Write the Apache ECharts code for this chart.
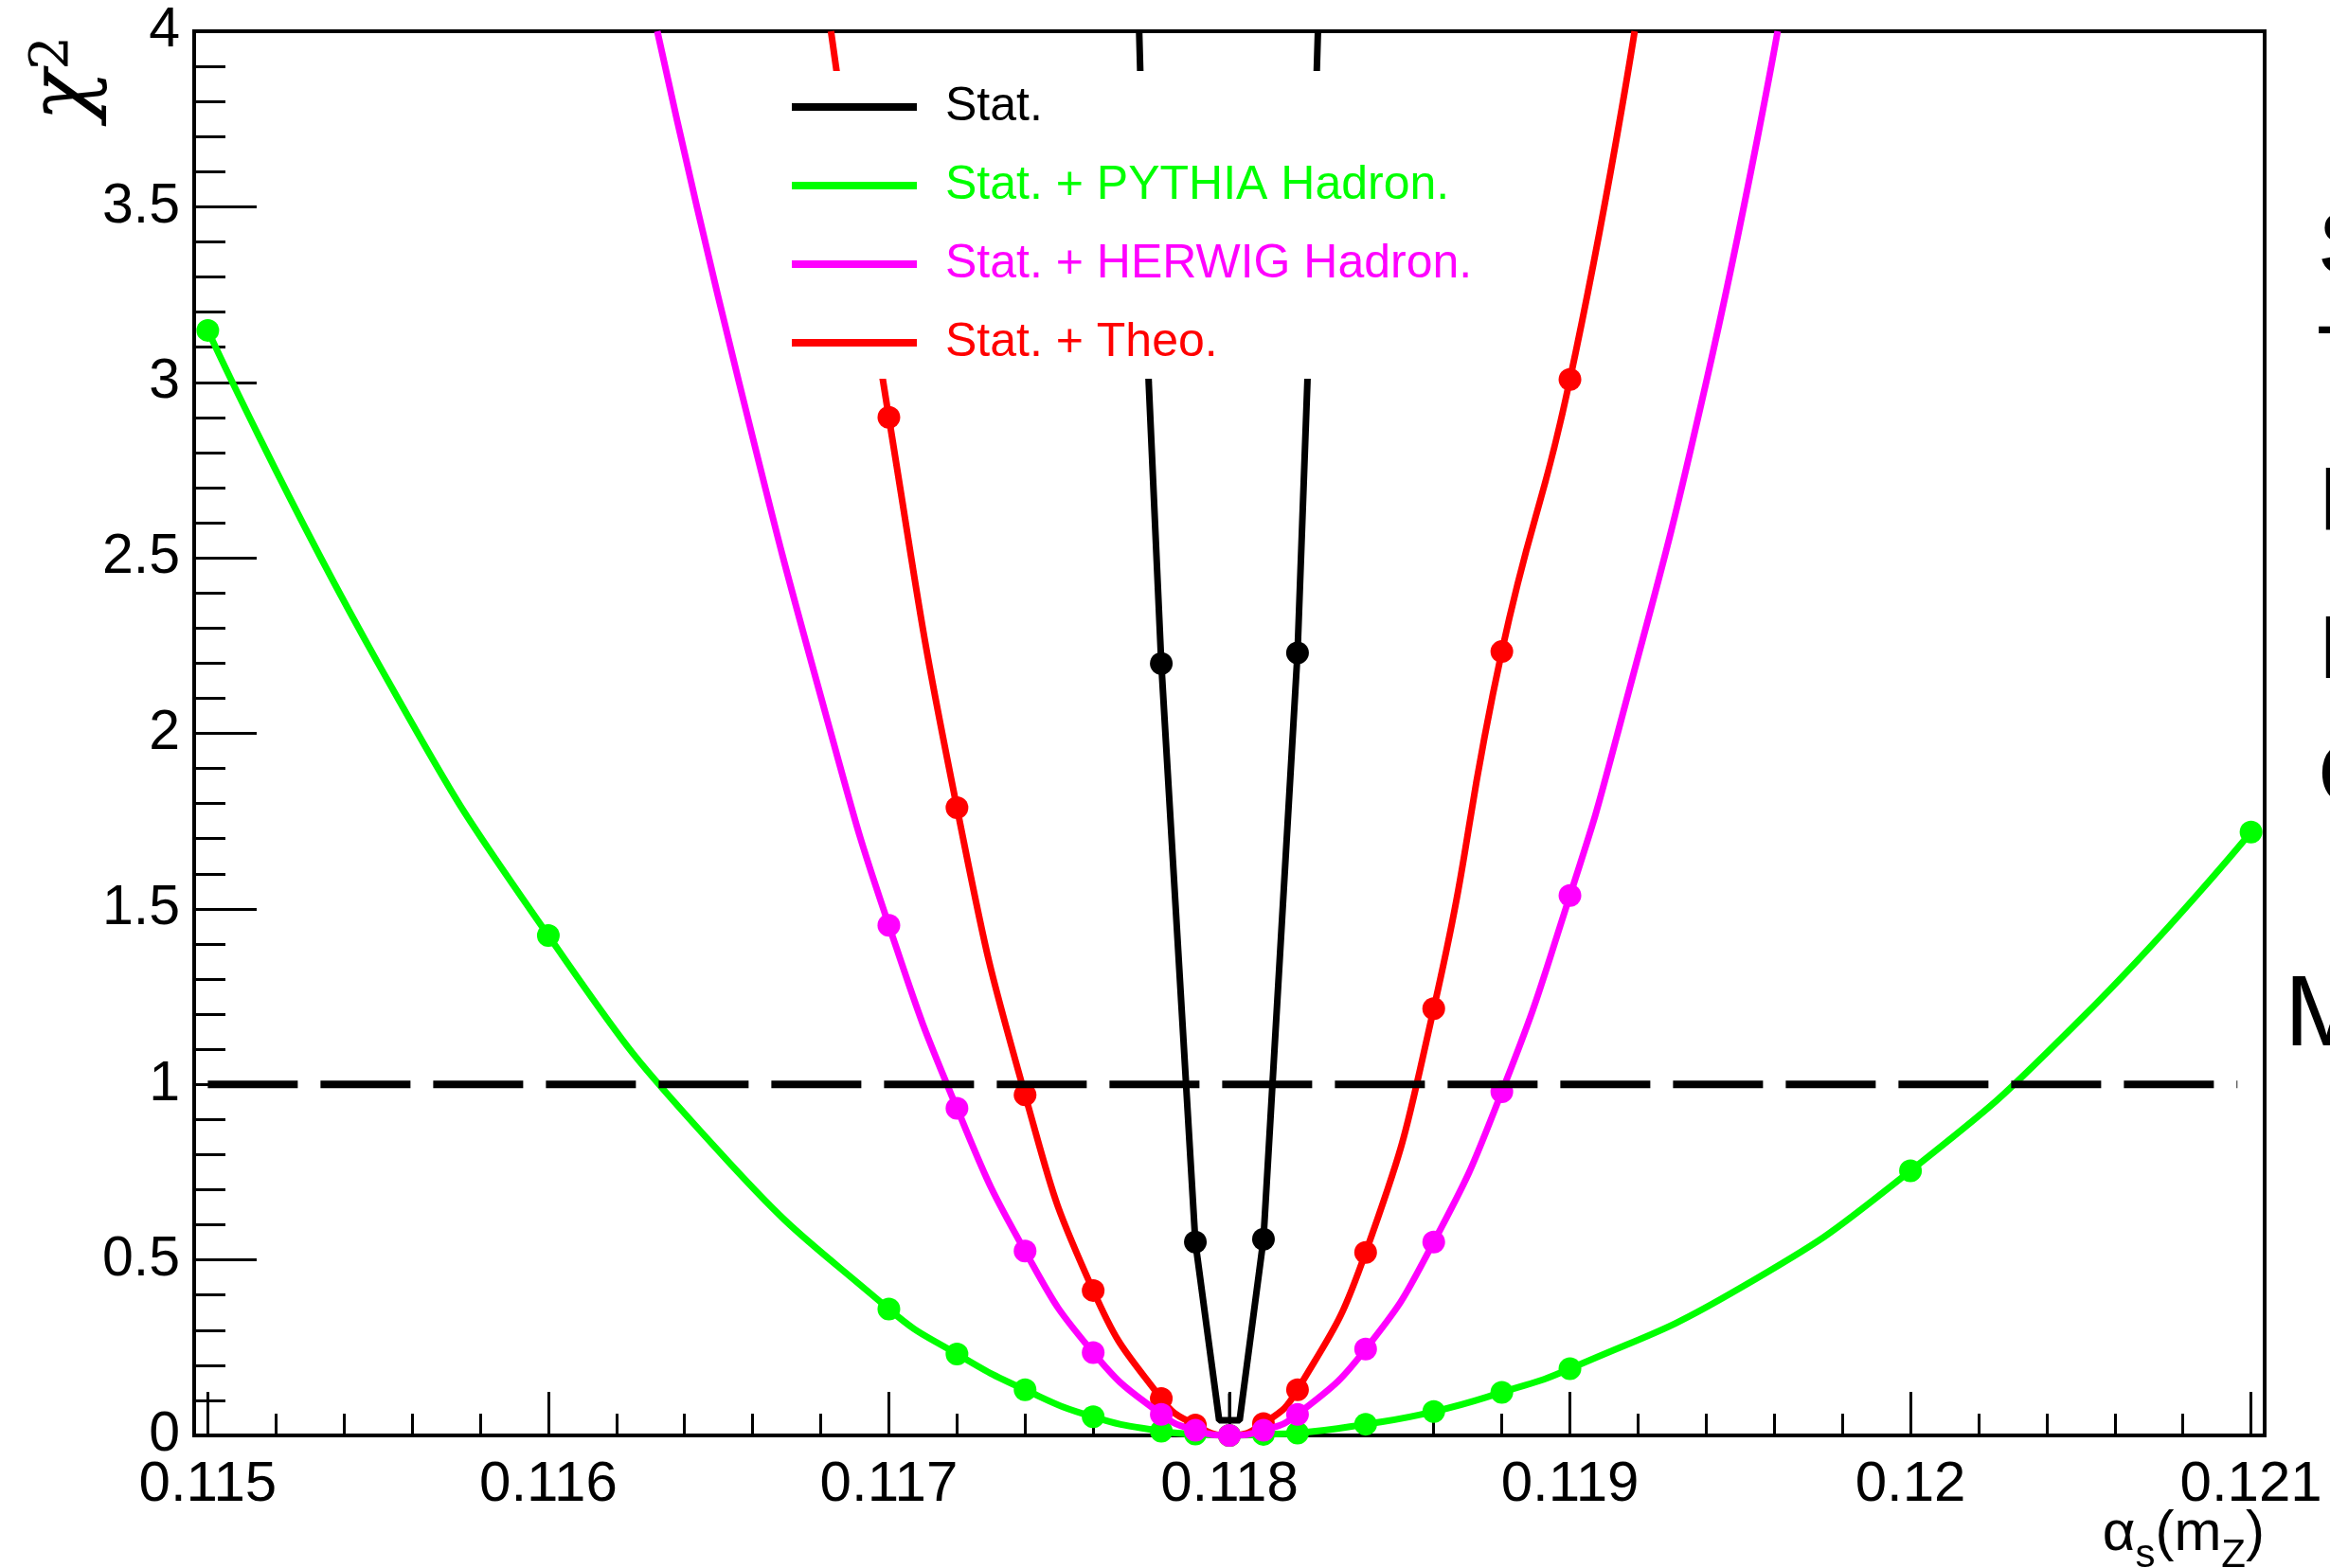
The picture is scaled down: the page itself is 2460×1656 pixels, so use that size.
<!DOCTYPE html>
<html>
<head>
<meta charset="utf-8">
<script src="https://cdn.jsdelivr.net/npm/echarts@6/dist/echarts.min.js"></script>
<style>
html,body{margin:0;padding:0;background:#fff;}
#chart{width:2460px;height:1656px;}
</style>
</head>
<body>
<div id="chart"></div>
<script>
// ---------- data ----------
const xTickVals   = [0.115, 0.116, 0.117, 0.118, 0.119, 0.120, 0.121];
const xTickLabels = ['0.115', '0.116', '0.117', '0.118', '0.119', '0.12', '0.121'];

// Stat. + PYTHIA Hadron. (green) markers
const pythiaX = [0.115, 0.116, 0.117, 0.1172, 0.1174, 0.1176, 0.1178, 0.1179, 0.118, 0.1181, 0.1182, 0.1184, 0.1186, 0.1188, 0.119, 0.120, 0.121];
const pythiaY = [3.148, 1.424, 0.360, 0.232, 0.130, 0.053, 0.012, 0.004, 0.0, 0.003, 0.007, 0.032, 0.068, 0.123, 0.190, 0.754, 1.719];
// PYTHIA drawn curve (markers plus curve positions read between the wide-spaced markers)
const pythiaCurveX = [0.115, 0.1155, 0.116, 0.1165, 0.117, 0.1172, 0.1174, 0.1176, 0.1178, 0.1179, 0.118, 0.1181, 0.1182, 0.1184, 0.1186, 0.1188, 0.119, 0.1195, 0.120, 0.1205, 0.121];
const pythiaCurveY = [3.148, 2.20, 1.424, 0.81, 0.360, 0.232, 0.130, 0.053, 0.012, 0.004, 0.0, 0.003, 0.007, 0.032, 0.068, 0.123, 0.190, 0.42, 0.754, 1.186, 1.719];

// Stat. + HERWIG Hadron. (magenta) markers
const herwigX = [0.117, 0.1172, 0.1174, 0.1176, 0.1178, 0.1179, 0.118, 0.1181, 0.1182, 0.1184, 0.1186, 0.1188, 0.119];
const herwigY = [1.453, 0.932, 0.525, 0.236, 0.060, 0.015, 0.0, 0.015, 0.060, 0.246, 0.551, 0.979, 1.538];
// HERWIG curve (markers plus the drawn curve beyond them)
const herwigCurveX = [0.11632, 0.11656, 0.11683, 0.117, 0.1172, 0.1174, 0.1176, 0.1178, 0.1179, 0.118, 0.1181, 0.1182, 0.1184, 0.1186, 0.1188, 0.119, 0.11914, 0.1194, 0.11961];
const herwigCurveY = [4.0, 3.0, 2.0, 1.453, 0.932, 0.525, 0.236, 0.060, 0.015, 0.0, 0.015, 0.060, 0.246, 0.551, 0.979, 1.538, 2.0, 3.0, 4.0];

// Stat. + Theo. (red) markers
const theoX = [0.117, 0.1172, 0.1174, 0.1176, 0.1178, 0.1179, 0.118, 0.1181, 0.1182, 0.1184, 0.1186, 0.1188, 0.119];
const theoY = [2.90, 1.788, 0.970, 0.413, 0.105, 0.030, 0.0, 0.034, 0.130, 0.521, 1.216, 2.233, 3.008];
const theoCurveX = [0.11683, 0.117, 0.1172, 0.1174, 0.1176, 0.1178, 0.1179, 0.118, 0.1181, 0.1182, 0.1184, 0.1186, 0.1188, 0.119, 0.11919];
const theoCurveY = [4.0, 2.90, 1.788, 0.970, 0.413, 0.105, 0.030, 0.0, 0.034, 0.130, 0.521, 1.216, 2.233, 3.008, 4.0];

// Stat. (black) markers
const statX = [0.1178, 0.1179, 0.1181, 0.1182];
const statY = [2.199, 0.551, 0.559, 2.229];
const statCurveX = [0.117735, 0.117763, 0.1178, 0.1179, 0.11797, 0.11803, 0.1181, 0.1182, 0.118229, 0.11826];
const statCurveY = [4.0, 3.0, 2.199, 0.551, 0.043, 0.043, 0.559, 2.229, 3.0, 4.0];
const statTickX = [0.118, 0.118];
const statTickY = [0.043, 0.12];

// reference line chi2 = 1
const refLineX = [0.115, 0.12096];
const refLineY = [1, 1];

const seriesNames = ['Stat.', 'Stat. + PYTHIA Hadron.', 'Stat. + HERWIG Hadron.', 'Stat. + Theo.'];
const seriesColors = ['#000000', '#00ff00', '#ff00ff', '#ff0000'];

// clipped labels at the right edge
const sideTexts = ['S', 'T', 'P', 'H', 'C', 'M'];

// ---------- build ----------
const zip = (xs, ys) => xs.map((x, i) => [x, ys[i]]);
const xMinorVals = [];
for (let i = 0; i < xTickVals.length - 1; i++) {
  for (let j = 1; j < 5; j++) xMinorVals.push(+(xTickVals[i] + j * 0.0002).toFixed(5));
}
const FONT = '"Liberation Sans", Arial, Helvetica, sans-serif';
const SERIF = '"DejaVu Serif", "Liberation Serif", serif';

function curve(name, color, xs, ys, smooth, z) {
  return {
    type: 'line', name: name, data: zip(xs, ys), smooth: smooth,
    showSymbol: false, symbol: 'none', color: color, z: z,
    lineStyle: { color: color, width: 7 }, animation: false, silent: true
  };
}
function markers(name, color, xs, ys, z) {
  return {
    type: 'scatter', name: name, data: zip(xs, ys), symbol: 'circle', symbolSize: 24,
    itemStyle: { color: color, opacity: 1 }, z: z, animation: false, silent: true
  };
}

const sideY = [263, 384, 533, 690, 823, 1075];
const sideXpos = [2447, 2446, 2448, 2448, 2447, 2412];
const sideFs = [95, 95, 95, 95, 95, 106];
const graphicEls = sideTexts.map((t, i) => ({
  type: 'text', x: sideXpos[i], y: sideY[i], silent: true,
  style: { text: t, fill: '#000', font: sideFs[i] + 'px ' + FONT, align: 'left', verticalAlign: 'middle' }
}));
// y-axis title chi^2, rotated (reads bottom to top)
graphicEls.push({
  type: 'text', x: 112, y: 38, rotation: Math.PI / 2, silent: true,
  style: {
    text: '{chi|χ}{sup|2}', fill: '#000', align: 'right', verticalAlign: 'bottom',
    rich: {
      chi: { fontSize: 90, lineHeight: 84, fontFamily: SERIF, fontStyle: 'italic', fill: '#000' },
      sup: { fontSize: 56, lineHeight: 30, fontFamily: SERIF, fill: '#000', verticalAlign: 'top' }
    }
  }
});

const chart = echarts.init(document.getElementById('chart'));
chart.setOption({
  animation: false,
  backgroundColor: '#ffffff',
  grid: { left: 205, right: 69, top: 33, bottom: 140, containLabel: false, outerBoundsMode: 'none',
          show: true, borderColor: '#000', borderWidth: 4, backgroundColor: 'transparent' },
  xAxis: [{
    type: 'value', min: 0.11496, max: 0.12104, position: 'bottom',
    splitLine: { show: false },
    axisLine: { show: true, lineStyle: { color: '#000', width: 4 } },
    axisTick: { show: true, inside: true, length: 46, customValues: xTickVals, lineStyle: { color: '#000', width: 3 } },
    axisLabel: {
      show: true, customValues: xTickVals, margin: 22, color: '#000', fontSize: 60, fontFamily: FONT,
      formatter: function (v) {
        let best = 0;
        xTickVals.forEach((t, i) => { if (Math.abs(t - v) < Math.abs(xTickVals[best] - v)) best = i; });
        return xTickLabels[best];
      }
    },
    name: '{a|α}{s|s}{a|(m}{s|Z}{a|)}',
    nameLocation: 'end', nameGap: 0, nameMoveOverlap: false,
    nameTextStyle: {
      align: 'right', verticalAlign: 'top', padding: [74, 0, 0, 0], color: '#000',
      rich: {
        a: { fontSize: 60, lineHeight: 60, fontFamily: FONT, color: '#000', verticalAlign: 'top' },
        s: { fontSize: 42, lineHeight: 42, fontFamily: FONT, color: '#000', verticalAlign: 'top', padding: [32, 0, 0, 0] }
      }
    }
  }, {
    type: 'value', min: 0.11496, max: 0.12104, position: 'bottom',
    splitLine: { show: false },
    axisLine: { show: false },
    axisTick: { show: true, inside: true, length: 23, customValues: xMinorVals, lineStyle: { color: '#000', width: 3 } },
    axisLabel: { show: false }
  }],
  yAxis: {
    type: 'value', min: 0, max: 4, interval: 0.5,
    splitLine: { show: false },
    axisLine: { show: true, lineStyle: { color: '#000', width: 4 } },
    axisTick: { show: true, inside: true, length: 66, lineStyle: { color: '#000', width: 3 } },
    minorTick: { show: true, splitNumber: 5, length: 33, lineStyle: { color: '#000', width: 3 } },
    axisLabel: { margin: 15, color: '#000', fontSize: 59, fontFamily: FONT }
  },
  legend: {
    orient: 'vertical', left: 820, top: 75, z: 30,
    padding: [13, 40, 13, 16], backgroundColor: '#ffffff',
    itemWidth: 132, itemHeight: 8, itemGap: 33, icon: 'rect', selectedMode: false,
    textStyle: { fontSize: 50, lineHeight: 50, fontFamily: FONT, padding: [0, 0, 0, 25] },
    data: seriesNames.map((n, i) => ({ name: n, textStyle: { color: seriesColors[i] } }))
  },
  graphic: { elements: graphicEls },
  series: [
    curve(seriesNames[3], seriesColors[3], theoCurveX, theoCurveY, 0.5, 3),
    markers('Theo points', seriesColors[3], theoX, theoY, 3),
    curve(seriesNames[1], seriesColors[1], pythiaCurveX, pythiaCurveY, 0.5, 4),
    markers('PYTHIA points', seriesColors[1], pythiaX, pythiaY, 4),
    curve(seriesNames[2], seriesColors[2], herwigCurveX, herwigCurveY, 0.5, 5),
    markers('HERWIG points', seriesColors[2], herwigX, herwigY, 5),
    curve(seriesNames[0], seriesColors[0], statCurveX, statCurveY, false, 6),
    {
      type: 'line', name: 'Stat. tick', data: zip(statTickX, statTickY), symbol: 'none', showSymbol: false,
      lineStyle: { color: '#000', width: 3 }, z: 6, animation: false, silent: true
    },
    markers('Stat. points', seriesColors[0], statX, statY, 6),
    {
      type: 'line', name: 'chi2 = 1', data: zip(refLineX, refLineY), symbol: 'none', showSymbol: false,
      lineStyle: { color: '#000', width: 8, type: [95, 24], cap: 'butt' }, z: 7, animation: false, silent: true
    }
  ]
});
</script>
</body>
</html>
